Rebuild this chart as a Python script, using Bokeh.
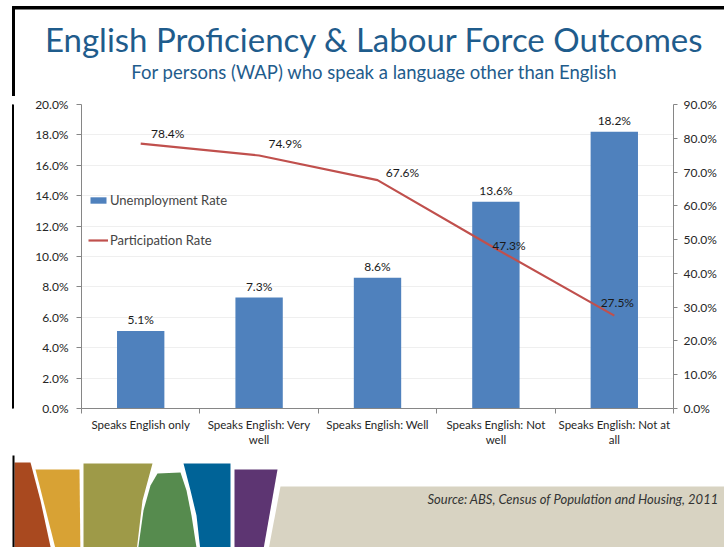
from bokeh.plotting import figure
from bokeh.layouts import column, row
from bokeh.models import (Range1d, LinearAxis, FixedTicker, PrintfTickFormatter, Legend,
                          LegendItem, ColumnDataSource)
from bokeh.core.properties import value
from bokeh.embed import file_html
from bokeh.resources import INLINE

# ---------------- data ----------------
categories = ["Speaks English only", "Speaks English: Very well", "Speaks English: Well",
              "Speaks English: Not well", "Speaks English: Not at all"]
category_labels = ["Speaks English only", "Speaks English: Very\nwell", "Speaks English: Well",
                   "Speaks English: Not\nwell", "Speaks English: Not at\nall"]
unemployment = [5.1, 7.3, 8.6, 13.6, 18.2]
participation = [78.4, 74.9, 67.6, 47.3, 27.5]
left_ticks = [0, 2, 4, 6, 8, 10, 12, 14, 16, 18, 20]
right_ticks = [0, 10, 20, 30, 40, 50, 60, 70, 80, 90]
title_text = "English Proficiency & Labour Force Outcomes"
subtitle_text = "For persons (WAP) who speak a language other than English"
source_text = "Source: ABS, Census of Population and Housing, 2011"

# ---------------- styles ----------------
FONT = "Lato"
BAR_COLOR = "#4F81BD"
LINE_COLOR = "#C0504D"
AXIS_COLOR = "#868686"
TITLE_COLOR = "#1F5C8C"
TEXT_COLOR = "#262626"
line_label_dx = [27, 26, 25, 13, 3]
line_label_dy = [-10, -12, -8, -3, -13]

W, H = 724, 547
TOP_H, BOT_H, STRIP_W = 96, 92, 14
MID_H = H - TOP_H - BOT_H


def blank(width, height, x0, x1, y0, y1):
    f = figure(width=width, height=height, x_range=Range1d(x0, x1), y_range=Range1d(y0, y1),
               output_backend="svg", toolbar_location=None, min_border=0,
               x_axis_location=None, y_axis_location=None)
    f.outline_line_color = None
    f.xgrid.visible = False
    f.ygrid.visible = False
    return f


# ---------------- top band: title + subtitle ----------------
top = blank(W, TOP_H, 0, W, TOP_H, 0)       # y flipped: data y == page y
top.quad(left=[12, 12], right=[W, 14], top=[6, 6], bottom=[8.5, TOP_H + 1], color="black")
top.text(x=[374], y=[38], text=[title_text], text_align="center", text_baseline="middle",
         text_font=value(FONT), text_font_size="33px", text_color=TITLE_COLOR)
top.text(x=[374], y=[71], text=[subtitle_text], text_align="center", text_baseline="middle",
         text_font=value(FONT), text_font_size="18.5px", text_color=TITLE_COLOR)

# ---------------- left strip (slide border) ----------------
strip = blank(STRIP_W, MID_H, 0, STRIP_W, 0, 1)
strip.quad(left=[12], right=[14], top=[1.05], bottom=[-0.05], color="black")

# ---------------- chart ----------------
n = len(categories)
xpos = [i + 0.5 for i in range(n)]          # category centres on a 0..n scale
src = ColumnDataSource(dict(
    x=xpos,
    unemp=unemployment,
    part=participation,
    unemp_lbl=[f"{v:.1f}%" for v in unemployment],
    part_lbl=[f"{v:.1f}%" for v in participation],
    dx=line_label_dx,
    dy=line_label_dy,
))

p = figure(width=W - STRIP_W, height=MID_H,
           x_range=Range1d(0, n),
           y_range=Range1d(left_ticks[0], left_ticks[-1]),
           output_backend="svg", toolbar_location=None,
           x_axis_location=None,
           min_border_left=81 - STRIP_W, min_border_right=W - 673,
           min_border_top=104 - TOP_H, min_border_bottom=TOP_H + MID_H - 408)
p.outline_line_color = None
p.extra_y_ranges = {"part": Range1d(right_ticks[0], right_ticks[-1])}

ya = p.yaxis[0]
ya.ticker = FixedTicker(ticks=left_ticks)
ya.formatter = PrintfTickFormatter(format="%.1f%%")
ya.axis_line_color = AXIS_COLOR
ya.major_tick_line_color = AXIS_COLOR
ya.major_tick_in = 0
ya.major_tick_out = 5
ya.minor_tick_line_color = None
ya.major_label_text_font = FONT
ya.major_label_text_font_size = "12px"
ya.major_label_text_color = TEXT_COLOR
ya.major_label_standoff = 8

ra = LinearAxis(y_range_name="part", ticker=FixedTicker(ticks=right_ticks),
                formatter=PrintfTickFormatter(format="%.1f%%"))
ra.axis_line_color = AXIS_COLOR
ra.major_tick_line_color = AXIS_COLOR
ra.major_tick_in = 0
ra.major_tick_out = 4
ra.minor_tick_line_color = None
ra.major_label_text_font = FONT
ra.major_label_text_font_size = "12px"
ra.major_label_text_color = TEXT_COLOR
ra.major_label_standoff = 6
p.add_layout(ra, "right")

# category boundary ticks
ea = LinearAxis(ticker=FixedTicker(ticks=list(range(n + 1))))
ea.axis_line_color = AXIS_COLOR
ea.major_tick_line_color = AXIS_COLOR
ea.major_tick_in = 0
ea.major_tick_out = 5
ea.minor_tick_line_color = None
ea.major_label_text_color = None
ea.major_label_text_font_size = "1px"
ea.major_label_standoff = 0
p.add_layout(ea, "below")

# category names at centres
ca = LinearAxis(ticker=FixedTicker(ticks=xpos))
ca.major_label_overrides = {x: lbl for x, lbl in zip(xpos, category_labels)}
ca.axis_line_color = None
ca.major_tick_line_color = None
ca.major_tick_in = 0
ca.major_tick_out = 0
ca.minor_tick_line_color = None
ca.major_label_text_font = FONT
ca.major_label_text_font_size = "11.5px"
ca.major_label_text_color = TEXT_COLOR
ca.major_label_standoff = 4
p.add_layout(ca, "below")

p.xgrid.grid_line_color = None
p.ygrid.ticker = FixedTicker(ticks=left_ticks)
p.ygrid.grid_line_color = "#EFEFEF"

bars = p.vbar(x="x", top="unemp", width=0.4, source=src, fill_color=BAR_COLOR, line_color=None)
line = p.line(x="x", y="part", source=src, y_range_name="part", line_color=LINE_COLOR, line_width=2.2)

p.text(x="x", y="unemp", text="unemp_lbl", source=src, text_align="center", text_baseline="bottom",
       y_offset=-4, text_font=value(FONT), text_font_size="12px", text_color="#1a1a1a")
p.text(x="x", y="part", text="part_lbl", source=src, y_range_name="part",
       x_offset="dx", y_offset="dy", text_align="center", text_baseline="middle",
       text_font=value(FONT), text_font_size="12px", text_color="#1a1a1a")

legend = Legend(items=[LegendItem(label="Unemployment Rate", renderers=[bars]),
                       LegendItem(label="Participation Rate", renderers=[line])],
                location=(7, 160), glyph_width=20, glyph_height=8, label_height=8,
                spacing=24, padding=0, margin=0, border_line_color=None,
                background_fill_alpha=0, label_text_font=FONT, label_text_font_size="13px",
                label_standoff=2)
p.add_layout(legend)

# ---------------- bottom band: decoration + source ----------------
y0 = TOP_H + MID_H
bot = blank(W, BOT_H, 0, W, H, y0)          # y flipped: data y == page y
shapes = [
    ([280, 740, 740, 266], [486, 486, 560, 560], "#D8D3C2"),
    ([14, 30, 40, 53, 14], [462, 462, 500, 560, 560], "#A9491F"),
    ([35, 79, 80, 58], [469, 469, 560, 560], "#D8A234"),
    ([83, 152, 142, 135, 83], [463, 463, 500, 560, 560], "#9E9A48"),
    ([136, 143, 150, 157, 180, 186, 191, 198], [560, 510, 485, 473, 472, 490, 515, 560], "#568B4E"),
    ([183, 230, 230, 201, 196, 190], [463, 463, 560, 560, 515, 490], "#006397"),
    ([234, 277, 261, 234], [469, 469, 560, 560], "#5D3572"),
    ([12, 14, 14, 12], [y0 - 2, y0 - 2, 560, 560], "#000000"),
]
bot.patches(xs=[s[0] for s in shapes], ys=[s[1] for s in shapes],
            fill_color=[s[2] for s in shapes], line_color=None)
bot.text(x=[427], y=[498], text=[source_text], text_align="left", text_baseline="middle",
         text_font=value(FONT), text_font_style="italic", text_font_size="13px", text_color="#333333")

layout = column(top, row(strip, p, spacing=0), bot, spacing=0)
open("out.html", "w").write(file_html(layout, INLINE))
